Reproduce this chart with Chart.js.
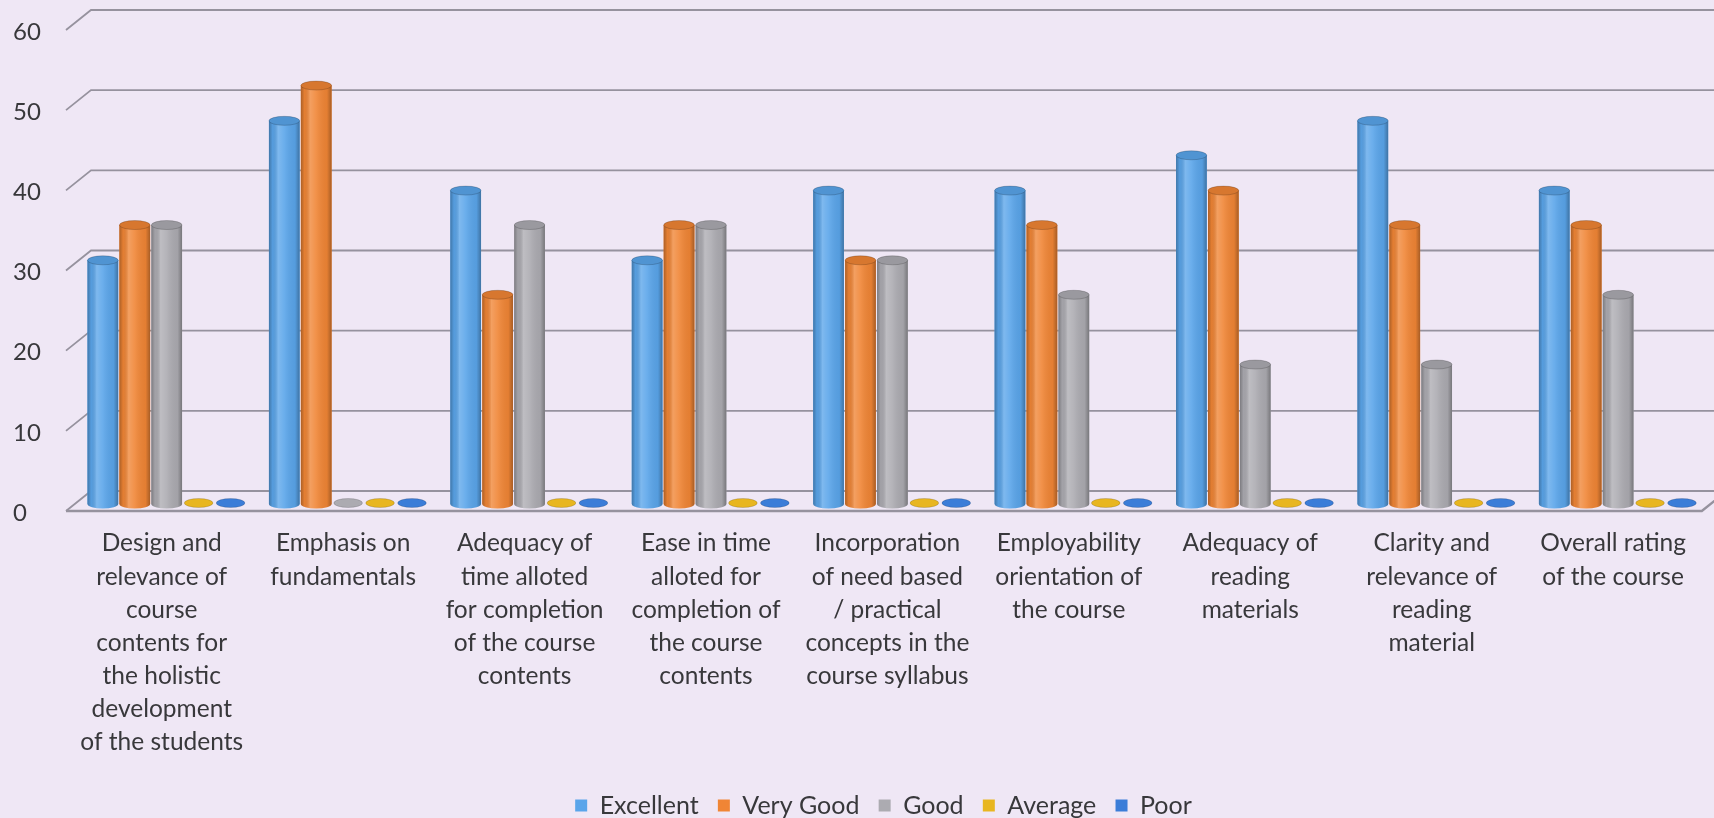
<!DOCTYPE html>
<html>
<head>
<meta charset="utf-8">
<script src="https://cdn.jsdelivr.net/npm/chart.js@4/dist/chart.umd.min.js"></script>
<style>
  html, body { margin: 0; padding: 0; background: #efe7f5; overflow: hidden; }
  #wrap { width: 1714px; height: 818px; position: relative; }
</style>
</head>
<body>
<div id="wrap"><canvas id="myChart"></canvas></div>
<script>
const categories = [
    ['Design and', 'relevance of', 'course', 'contents for', 'the holistic', 'development', 'of the students'],
    ['Emphasis on', 'fundamentals'],
    ['Adequacy of', 'time alloted', 'for completion', 'of the course', 'contents'],
    ['Ease in time', 'alloted for', 'completion of', 'the course', 'contents'],
    ['Incorporation', 'of need based', '/ practical', 'concepts in the', 'course syllabus'],
    ['Employability', 'orientation of', 'the course'],
    ['Adequacy of', 'reading', 'materials'],
    ['Clarity and', 'relevance of', 'reading', 'material'],
    ['Overall rating', 'of the course']
];

const excellent = [30.4, 47.8, 39.1, 30.4, 39.1, 39.1, 43.5, 47.8, 39.1];
const veryGood  = [34.8, 52.2, 26.1, 34.8, 30.4, 34.8, 39.1, 34.8, 34.8];
const good      = [34.8, 0, 34.8, 34.8, 30.4, 26.1, 17.4, 17.4, 26.1];
const average   = [0, 0, 0, 0, 0, 0, 0, 0, 0];
const poor      = [0, 0, 0, 0, 0, 0, 0, 0, 0];

const yTicks = { min: 0, max: 60, step: 10 };

const textColor = '#38383b';
const fontFamily = 'Lato, "Open Sans", sans-serif';

// back wall lines + floor, drawn with a small 3D offset like the original
const floor3d = {
    id: 'floor3d',
    beforeDatasetsDraw(chart) {
        const { ctx, chartArea, scales: { y } } = chart;
        const x0 = chartArea.left - 10, x1 = chartArea.left + 15;
        ctx.save();
        ctx.strokeStyle = '#96929e';
        ctx.lineWidth = 1.8;
        y.ticks.forEach(t => {
            const py = y.getPixelForValue(t.value);
            ctx.beginPath();
            ctx.moveTo(x0, py + 7);
            ctx.lineTo(x1, py - 13);
            ctx.lineTo(chart.width, py - 13);
            ctx.stroke();
        });
        const p0 = y.getPixelForValue(0);
        ctx.lineWidth = 2.4;
        ctx.strokeStyle = '#96929e';
        ctx.beginPath();
        ctx.moveTo(x0, p0 + 7);
        ctx.lineTo(chartArea.right - 7, p0 + 7);
        ctx.lineTo(chartArea.right + 18, p0 - 13);
        ctx.stroke();
        ctx.restore();
    }
};

// turn the flat bars into cylinders
const cylinders = {
    id: 'cylinders',
    afterDatasetsDraw(chart) {
        const ctx = chart.ctx;
        chart.data.datasets.forEach((ds, i) => {
            const meta = chart.getDatasetMeta(i);
            if (meta.hidden) return;
            meta.data.forEach((bar, j) => {
                const { x, y, base, width } = bar.getProps(['x', 'y', 'base', 'width'], true);
                const rx = width / 2, ry = 4.5;
                const col = ds.backgroundColor;
                ctx.save();
                if (!(ds.data[j] > 0)) {
                    ctx.fillStyle = col;
                    ctx.beginPath();
                    ctx.ellipse(x, base - 1, rx - 1, ry, 0, 0, Math.PI * 2);
                    ctx.fill();
                    ctx.strokeStyle = 'rgba(0,0,0,0.15)';
                    ctx.lineWidth = 1;
                    ctx.stroke();
                    ctx.restore();
                    return;
                }
                // body with rounded bottom
                ctx.beginPath();
                ctx.moveTo(x - rx, y);
                ctx.lineTo(x - rx, base);
                ctx.ellipse(x, base, rx, ry, 0, Math.PI, 0, true);
                ctx.lineTo(x + rx, y);
                ctx.closePath();
                ctx.fillStyle = col;
                ctx.fill();
                const g = ctx.createLinearGradient(x - rx, 0, x + rx, 0);
                g.addColorStop(0, 'rgba(0,0,0,0.28)');
                g.addColorStop(0.12, 'rgba(0,0,0,0.05)');
                g.addColorStop(0.3, 'rgba(255,255,255,0.22)');
                g.addColorStop(0.5, 'rgba(255,255,255,0.1)');
                g.addColorStop(0.85, 'rgba(0,0,0,0.05)');
                g.addColorStop(1, 'rgba(0,0,0,0.3)');
                ctx.fillStyle = g;
                ctx.fill();
                // top cap
                ctx.beginPath();
                ctx.ellipse(x, y, rx, ry, 0, 0, Math.PI * 2);
                ctx.fillStyle = col;
                ctx.fill();
                ctx.fillStyle = 'rgba(0,0,0,0.1)';
                ctx.fill();
                ctx.strokeStyle = 'rgba(0,0,0,0.18)';
                ctx.lineWidth = 1;
                ctx.stroke();
                ctx.restore();
            });
        });
    }
};

// the legend in the original sits a little lower and right of centre
const legendShift = {
    id: 'legendShift',
    afterLayout(chart) {
        const lg = chart.legend;
        lg.left += 20;
        lg.right += 20;
        lg.top += 10;
        lg.bottom += 10;
    }
};

const ctx = document.getElementById('myChart');

const myChart = new Chart(ctx, {
    type: 'bar',
    data: {
        labels: categories,
        datasets: [
            { label: 'Excellent', data: excellent, backgroundColor: '#5aa5ea' },
            { label: 'Very Good', data: veryGood, backgroundColor: '#f08535' },
            { label: 'Good', data: good, backgroundColor: '#acabb1' },
            { label: 'Average', data: average, backgroundColor: '#e8b620' },
            { label: 'Poor', data: poor, backgroundColor: '#3b7dd8' }
        ]
    },
    options: {
        responsive: true,
        maintainAspectRatio: false,
        animation: false,
        events: [],
        categoryPercentage: 0.88,
        barPercentage: 0.96,
        layout: {
            padding: { top: 23, left: 13, right: 0, bottom: 0 }
        },
        plugins: {
            tooltip: { enabled: false },
            legend: {
                position: 'bottom',
                labels: {
                    boxWidth: 12,
                    boxHeight: 12,
                    padding: 0,
                    color: textColor,
                    font: { family: fontFamily, size: 25 },
                    generateLabels: chart => {
                        const items = Chart.defaults.plugins.legend.labels.generateLabels(chart);
                        items.forEach((it, k) => {
                            if (k < items.length - 1) it.text = it.text + '   ';
                        });
                        return items;
                    }
                }
            }
        },
        scales: {
            x: {
                grid: { display: false, drawTicks: false },
                border: { display: false },
                afterFit: s => { s.height = 279; },
                ticks: {
                    autoSkip: false,
                    maxRotation: 0,
                    minRotation: 0,
                    labelOffset: -5,
                    padding: 23,
                    color: textColor,
                    font: { family: fontFamily, size: 24.5, lineHeight: 1.35 }
                }
            },
            y: {
                min: yTicks.min,
                max: yTicks.max,
                grid: { display: false, drawTicks: false },
                border: { display: false },
                afterFit: s => { s.width = 63; },
                ticks: {
                    stepSize: yTicks.step,
                    crossAlign: 'far',
                    labelOffset: 9,
                    color: textColor,
                    font: { family: fontFamily, size: 24 }
                }
            }
        }
    },
    plugins: [floor3d, cylinders, legendShift]
});
</script>
</body>
</html>
